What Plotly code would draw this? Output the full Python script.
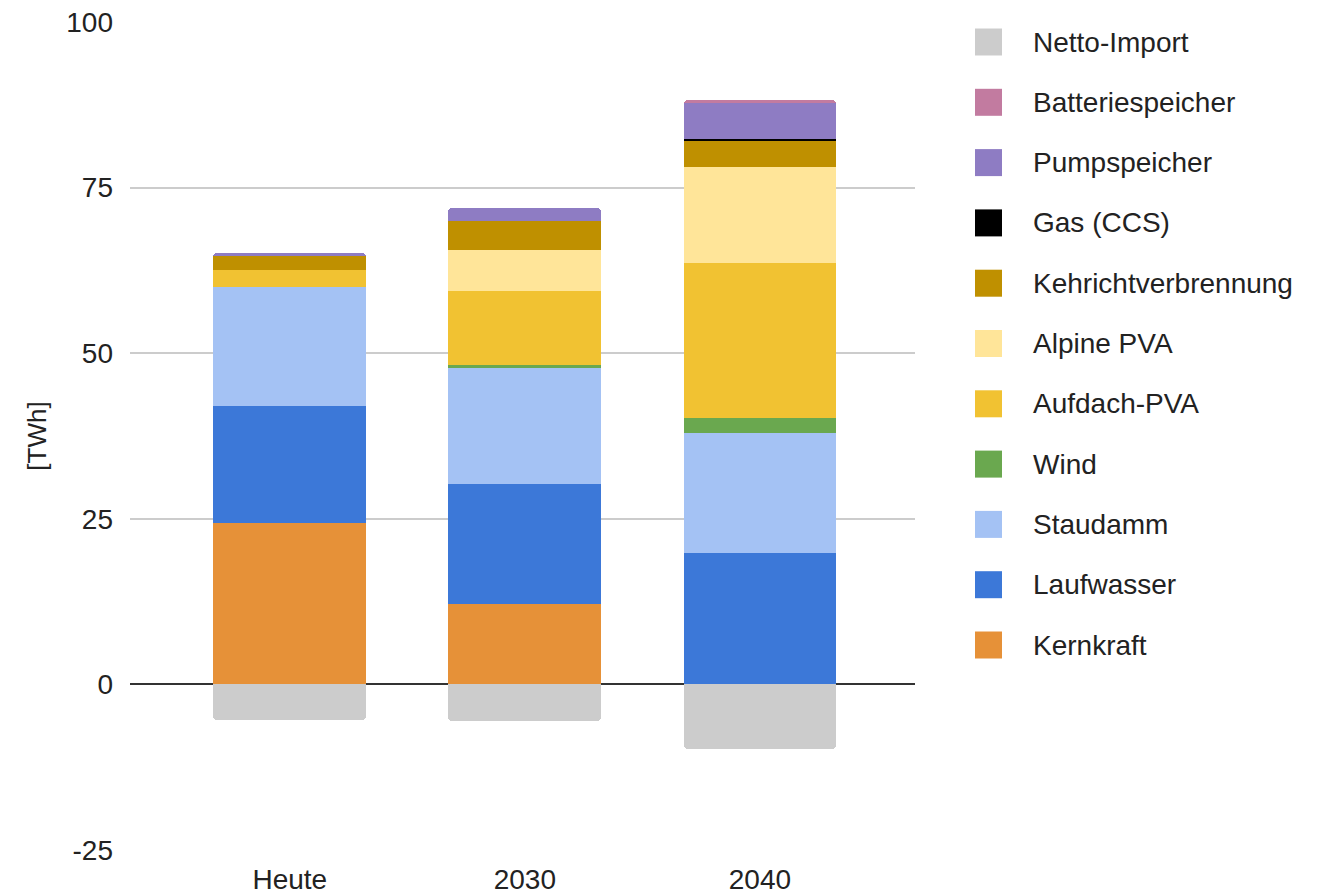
import plotly.graph_objects as go

categories = ["Heute", "2030", "2040"]

kernkraft = [24.3, 12.1, 0.0]
laufwasser = [17.8, 18.2, 19.8]
staudamm = [17.9, 17.5, 18.2]
wind = [0.0, 0.35, 2.2]
aufdach_pva = [2.6, 11.3, 23.4]
alpine_pva = [0.0, 6.2, 14.5]
kehricht = [2.0, 4.3, 3.9]
gas_ccs = [0.0, 0.0, 0.4]
pumpspeicher = [0.6, 1.9, 5.4]
batteriespeicher = [0.0, 0.0, 0.5]
netto_import = [-5.3, -5.6, -9.7]

y_ticks = [-25, 0, 25, 50, 75, 100]
y_tick_labels = ["-25", "0", "25", "50", "75", "100"]

series = [
    ("Kernkraft", kernkraft, "#e69138"),
    ("Laufwasser", laufwasser, "#3c78d8"),
    ("Staudamm", staudamm, "#a4c2f4"),
    ("Wind", wind, "#6aa84f"),
    ("Aufdach-PVA", aufdach_pva, "#f1c232"),
    ("Alpine PVA", alpine_pva, "#ffe599"),
    ("Kehrichtverbrennung", kehricht, "#bf9000"),
    ("Gas (CCS)", gas_ccs, "#000000"),
    ("Pumpspeicher", pumpspeicher, "#8e7cc3"),
    ("Batteriespeicher", batteriespeicher, "#c27ba0"),
    ("Netto-Import", netto_import, "#cccccc"),
]

W, H = 1342, 895
ML, MR, MT, MB = 130, 427, 22, 45
plot_w = W - ML - MR
plot_h = H - MT - MB
FONT = "Liberation Sans, Arial, sans-serif"
TXT = "#222222"

fig = go.Figure()
for name, vals, color in series:
    marker = dict(color=color, line=dict(width=0))
    if name == "Netto-Import":
        marker["cornerradius"] = 4
    fig.add_trace(go.Bar(
        name=name, x=categories, y=vals, marker=marker,
        width=0.65, showlegend=False,
    ))

# Legend drawn as swatches + labels, top entry = last series
def px_x(p):
    return (p - ML) / plot_w

def px_y(p):
    return (H - MB - p) / plot_h

shapes = []
annotations = []
sw = 27
for i, (name, _, color) in enumerate(reversed(series)):
    cy = 42 + i * 60.3
    shapes.append(dict(
        type="rect", xref="paper", yref="paper",
        x0=px_x(975), x1=px_x(975 + sw),
        y0=px_y(cy + sw / 2), y1=px_y(cy - sw / 2),
        fillcolor=color, line=dict(width=0), layer="above",
    ))
    annotations.append(dict(
        xref="paper", yref="paper", x=px_x(1031), y=px_y(cy),
        xanchor="left", yanchor="middle", text=name, showarrow=False,
        font=dict(family=FONT, size=28, color=TXT),
    ))

fig.update_layout(
    barmode="relative",
    width=W, height=H,
    margin=dict(l=ML, r=MR, t=MT, b=MB, autoexpand=False),
    plot_bgcolor="white", paper_bgcolor="white",
    font=dict(family=FONT, size=27, color=TXT),
    xaxis=dict(
        range=[-0.68, 2.66], showgrid=False, ticks="", automargin=False,
        tickfont=dict(family=FONT, size=28, color=TXT), showline=False,
        ticklabelstandoff=10,
    ),
    yaxis=dict(
        range=[-25, 100], tickvals=y_ticks, ticktext=y_tick_labels,
        automargin=False,
        gridcolor="#cccccc", gridwidth=1.5,
        zeroline=True, zerolinecolor="#333333", zerolinewidth=2,
        tickfont=dict(family=FONT, size=28, color=TXT), ticklabelstandoff=16,
        title=dict(text="[TWh]", font=dict(family=FONT, size=26, color=TXT), standoff=12),
    ),
    showlegend=False,
    shapes=shapes,
    annotations=annotations,
    bargap=0,
)

fig.write_html("out.html")
